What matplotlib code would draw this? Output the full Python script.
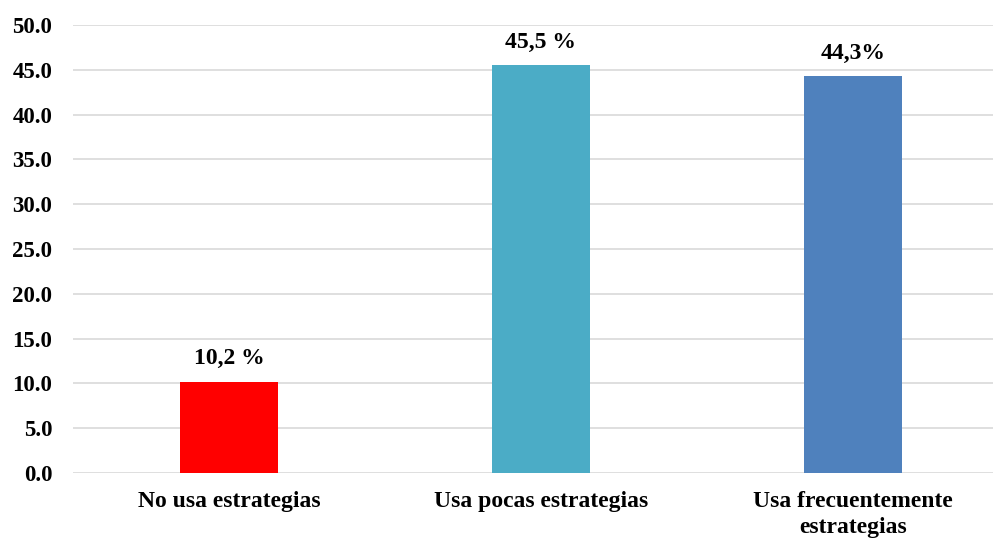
import matplotlib.pyplot as plt

categories = ["No usa estrategias", "Usa pocas estrategias", "Usa frecuentemente\nestrategias"]
values = [10.2, 45.5, 44.3]
value_labels = ["10,2 %", "45,5 %", "44,3%"]
colors = ["#FF0000", "#4BACC6", "#4F81BD"]

plt.rcParams["font.family"] = ["Liberation Serif", "DejaVu Serif"]
plt.rcParams["font.weight"] = "bold"

fig = plt.figure(figsize=(9.93, 5.41), dpi=100)
ax = fig.add_axes([73 / 993, 68 / 541, 920 / 993, 448 / 541])

x = range(len(categories))
bars = ax.bar(x, values, width=0.314, color=colors, zorder=3)

for bar, label in zip(bars, value_labels):
    ax.annotate(
        label,
        xy=(bar.get_x() + bar.get_width() / 2, bar.get_height()),
        xytext=(0, 9),
        textcoords="offset points",
        ha="center",
        va="bottom",
        fontsize=17,
        fontweight="bold",
    )

ax.set_xlim(-0.5, 2.449)
ax.set_ylim(0, 50)
ax.set_yticks([i * 5 for i in range(11)])
ax.set_yticklabels([f"{i * 5:.1f}" for i in range(11)], fontsize=16.5, fontweight="bold")
ax.set_xticks(list(x))
ax.set_xticklabels(categories, fontsize=17, fontweight="bold", linespacing=1.3)

ax.grid(axis="y", color="#D9D9D9", linewidth=1.2, zorder=0)
ax.tick_params(axis="y", length=0, pad=15)
ax.tick_params(axis="x", length=0, pad=13)
for spine in ax.spines.values():
    spine.set_visible(False)

fig.savefig("out.png", dpi=100)
